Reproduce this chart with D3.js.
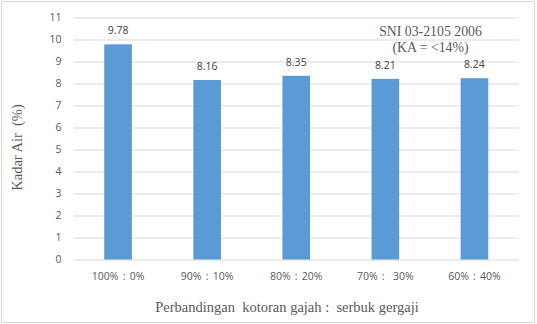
<!DOCTYPE html>
<html>
<head>
<meta charset="utf-8">
<script src="https://cdn.jsdelivr.net/npm/d3@7"></script>
<style>
  body { margin: 0; background: #fff; }
  svg { display: block; }
</style>
</head>
<body>
<div id="chart"></div>
<script>
let categories = ['100% : 0%', '90% : 10%', '80% : 20%', '70% :  30%', '60% : 40%'];
let values = [9.78, 8.16, 8.35, 8.21, 8.24];
let yTicks = [0, 1, 2, 3, 4, 5, 6, 7, 8, 9, 10, 11];
let noteLines = ['SNI 03-2105 2006', '(KA = <14%)'];

let W = 537, H = 324;
let margin = { top: 17.5, right: 18, bottom: 64.5, left: 73.5 },
width = W - margin.left - margin.right,
height = H - margin.top - margin.bottom;

let svg = d3.select('#chart').
append('svg').
attr('width', W).
attr('height', H);

// chart area border
svg.append('rect').
attr('x', 1.5).attr('y', 1.5).
attr('width', W - 4).attr('height', H - 3).
attr('fill', 'none').
attr('stroke', '#d9d9d9');

let g = svg.append('g').
attr('transform', 'translate(' + margin.left + ',' + margin.top + ')');

let x = d3.scaleBand().
domain(categories).
range([0, width]).
paddingInner(0.69).
paddingOuter(0.345);

let y = d3.scaleLinear().
domain([0, 11]).
range([height, 0]);

// gridlines
g.selectAll('.grid').
data(yTicks).
enter().
append('line').
attr('x1', 0).
attr('x2', width).
attr('y1', d => y(d) + 0.5).
attr('y2', d => y(d) + 0.5).
attr('stroke', '#d9d9d9').
attr('stroke-width', 1);

// y axis labels
let yAxis = g.append('g').
call(d3.axisLeft(y).tickValues(yTicks).tickSize(0).tickPadding(12));
yAxis.select('.domain').remove();
yAxis.selectAll('text').
attr('fill', '#595959').
style('font-family', '"Open Sans", sans-serif').
style('font-size', '10.5px');

// x axis labels
let xAxis = g.append('g').
attr('transform', 'translate(0,' + height + ')').
call(d3.axisBottom(x).tickSize(0).tickPadding(13));
xAxis.select('.domain').remove();
xAxis.selectAll('text').
attr('fill', '#595959').
style('font-family', '"Open Sans", sans-serif').
style('font-size', '10.5px').
style('word-spacing', '1.5px').
style('white-space', 'pre');

// bars
g.selectAll('.bar').
data(values).
enter().
append('rect').
attr('x', (d, i) => x(categories[i])).
attr('y', d => y(d)).
attr('width', x.bandwidth()).
attr('height', d => height - y(d)).
attr('fill', '#5b9bd5');

// value labels
g.selectAll('.val').
data(values).
enter().
append('text').
attr('x', (d, i) => x(categories[i]) + x.bandwidth() / 2).
attr('y', d => y(d) - 10).
attr('text-anchor', 'middle').
attr('fill', '#404040').
style('font-family', '"Open Sans", sans-serif').
style('font-size', '10.5px').
text(d => d.toFixed(2));

// annotation
svg.selectAll('.note').
data(noteLines).
enter().
append('text').
attr('x', 430.5).
attr('y', (d, i) => 36 + i * 16).
attr('text-anchor', 'middle').
attr('fill', '#595959').
style('font-family', '"Liberation Serif", "Times New Roman", serif').
style('font-size', '13.8px').
text(d => d);

// axis titles
svg.append('text').
attr('transform', 'translate(22,147.5) rotate(-90)').
attr('text-anchor', 'middle').
attr('fill', '#595959').
style('font-family', '"Liberation Serif", "Times New Roman", serif').
style('font-size', '14.5px').
style('white-space', 'pre').
text('Kadar Air  (%)');

svg.append('text').
attr('x', 287).
attr('y', 312).
attr('text-anchor', 'middle').
attr('fill', '#595959').
style('font-family', '"Liberation Serif", "Times New Roman", serif').
style('font-size', '14.5px').
style('white-space', 'pre').
text('Perbandingan  kotoran gajah :  serbuk gergaji');
</script>
</body>
</html>
